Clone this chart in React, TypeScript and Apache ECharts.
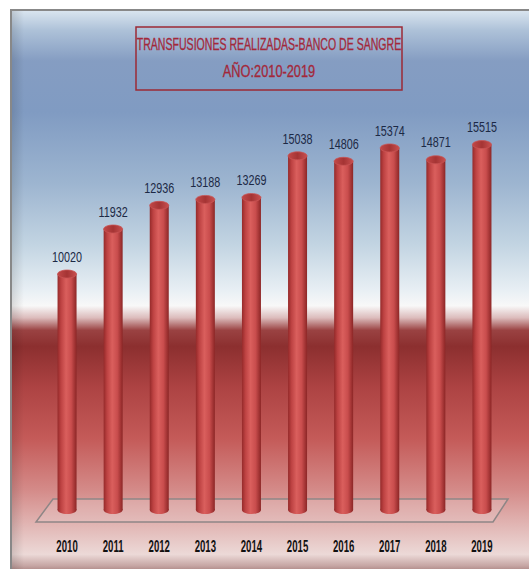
import React, { useEffect, useRef } from "react";
import * as echarts from "echarts";

const years = ["2010", "2011", "2012", "2013", "2014", "2015", "2016", "2017", "2018", "2019"];
const transfusions = [10020, 11932, 12936, 13188, 13269, 15038, 14806, 15374, 14871, 15515];
const titleLines = ["TRANSFUSIONES REALIZADAS-BANCO DE SANGRE", "AÑO:2010-2019"];
const yMax = 20000;

const SANS = "'Liberation Sans', Arial, sans-serif";

export default function App() {
  const ref = useRef<HTMLDivElement>(null);
  useEffect(() => {
    if (!ref.current) return;
    const chart = echarts.init(ref.current, null, { renderer: "svg" });
    const bodyGrad = new echarts.graphic.LinearGradient(0, 0, 1, 0, [
      { offset: 0, color: "#952a2a" },
      { offset: 0.18, color: "#bd4242" },
      { offset: 0.45, color: "#da5f5d" },
      { offset: 0.72, color: "#c94d4d" },
      { offset: 1, color: "#8c2626" },
    ]);
    const topGrad = new echarts.graphic.LinearGradient(0, 0, 1, 0, [
      { offset: 0, color: "#c24848" },
      { offset: 0.5, color: "#a53434" },
      { offset: 1, color: "#c85050" },
    ]);
    const option: any = {
      animation: false,
      grid: { left: 44, right: 24, top: 39, bottom: 59 },
      xAxis: {
        type: "category",
        data: years,
        axisLine: { show: false },
        axisTick: { show: false },
        axisLabel: { show: false },
      },
      yAxis: {
        type: "value",
        min: 0,
        max: yMax,
        show: false,
        splitLine: { show: false },
      },
      graphic: [
        {
          type: "rect",
          z: -20,
          silent: true,
          shape: { x: 11, y: 10, width: 530, height: 570 },
          style: {
            fill: new echarts.graphic.LinearGradient(0, 0, 0, 1, [
              { offset: 0, color: "#dbe6f0" },
              { offset: 0.036, color: "#adc1d8" },
              { offset: 0.089, color: "#859dc2" },
              { offset: 0.179, color: "#809bc2" },
              { offset: 0.304, color: "#9db5d0" },
              { offset: 0.411, color: "#c2d4e2" },
              { offset: 0.492, color: "#e8eff4" },
              { offset: 0.519, color: "#f8f8f8" },
              { offset: 0.54, color: "#dcbcbc" },
              { offset: 0.562, color: "#9a4242" },
              { offset: 0.59, color: "#8c2f2f" },
              { offset: 0.662, color: "#ad4343" },
              { offset: 0.751, color: "#c45a58" },
              { offset: 0.841, color: "#d48a88" },
              { offset: 0.921, color: "#e5c2c0" },
              { offset: 0.955, color: "#ecd9d7" },
              { offset: 0.975, color: "#c6a6a4" },
              { offset: 1, color: "#7a4a48" },
            ]),
            stroke: "#888888",
            lineWidth: 2,
          },
        },
        {
          type: "rect",
          z: -19,
          silent: true,
          shape: { x: 12, y: 11, width: 12, height: 560 },
          style: {
            fill: new echarts.graphic.LinearGradient(0, 0, 1, 0, [
              { offset: 0, color: "rgba(0,0,0,0.12)" },
              { offset: 1, color: "rgba(0,0,0,0)" },
            ]),
          },
        },
        {
          type: "polygon",
          z: -10,
          silent: true,
          shape: { points: [[53, 499], [508, 499], [493, 522], [36, 522]] },
          style: { fill: "rgba(235,215,215,0.25)", stroke: "#8e8686", lineWidth: 1.5 },
        },
        {
          type: "rect",
          z: 10,
          shape: { x: 136, y: 27, width: 266, height: 63 },
          style: { fill: "none", stroke: "#9c2a36", lineWidth: 1.5 },
        },
        {
          type: "text",
          z: 11,
          x: 269,
          y: 45,
          scaleX: 0.66,
          style: {
            text: titleLines[0],
            font: `16px ${SANS}`,
            fill: "#a3283a",
            stroke: "#a3283a",
            lineWidth: 0.3,
            align: "center",
            verticalAlign: "middle",
          },
        },
        {
          type: "text",
          z: 11,
          x: 269,
          y: 71,
          scaleX: 0.8,
          style: {
            text: titleLines[1],
            font: `16px ${SANS}`,
            fill: "#a3283a",
            stroke: "#a3283a",
            lineWidth: 0.3,
            align: "center",
            verticalAlign: "middle",
          },
        },
      ],
      series: [
        {
          type: "custom",
          data: transfusions.map((v, i) => [i, v]),
          encode: { x: 0, y: 1 },
          renderItem: (params: any, api: any) => {
            const idx = api.value(0);
            const val = api.value(1);
            const top = api.coord([idx, val]);
            const base = api.coord([idx, 0]);
            const w = 19;
            const rx = w / 2;
            const ry = 4;
            return {
              type: "group",
              children: [
                {
                  type: "ellipse",
                  shape: { cx: base[0], cy: base[1], rx, ry },
                  style: { fill: bodyGrad },
                },
                {
                  type: "rect",
                  shape: { x: top[0] - rx, y: top[1], width: w, height: base[1] - top[1] },
                  style: { fill: bodyGrad },
                },
                {
                  type: "ellipse",
                  shape: { cx: top[0], cy: top[1], rx, ry },
                  style: { fill: topGrad, stroke: "#c95454", lineWidth: 0.8 },
                },
                {
                  type: "text",
                  x: top[0],
                  y: top[1] - 10,
                  scaleX: 0.72,
                  style: {
                    text: String(val),
                    x: 0,
                    y: 0,
                    align: "center",
                    verticalAlign: "bottom",
                    font: `15px ${SANS}`,
                    fill: "#1c2945",
                  },
                },
                {
                  type: "text",
                  x: base[0],
                  y: base[1] + 37,
                  scaleX: 0.6,
                  style: {
                    text: years[idx],
                    x: 0,
                    y: 0,
                    align: "center",
                    verticalAlign: "middle",
                    font: `bold 16px ${SANS}`,
                    fill: "#111111",
                  },
                },
              ],
            };
          },
        },
      ],
    };
    chart.setOption(option);
    return () => chart.dispose();
  }, []);
  return (
    <div
      ref={ref}
      style={{ position: "fixed", left: 0, top: 0, width: 529, height: 569, background: "#ffffff" }}
    />
  );
}
